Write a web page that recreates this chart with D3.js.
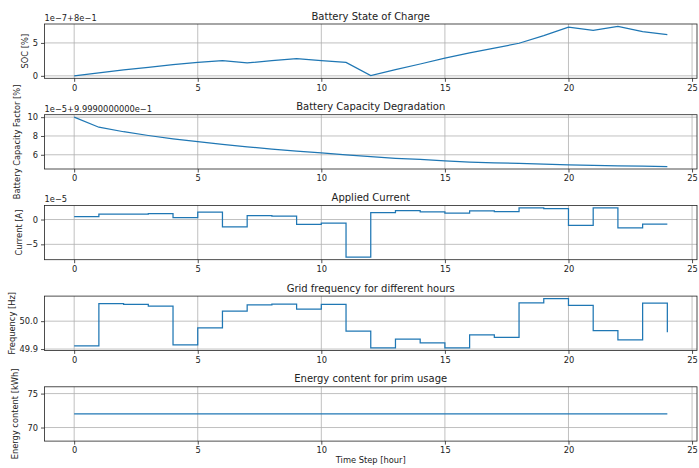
<!DOCTYPE html>
<meta charset="utf-8">
<style>
body { margin: 0; background: #fff; }
text { font-family: "DejaVu Sans", sans-serif; fill: #222; }
.grid line { stroke: #b0b0b0; stroke-width: 0.8; }
.tick text { font-size: 8.3px; }
</style>
<svg width="699" height="468"></svg>
<script src="https://d3js.org/d3.v7.min.js"></script>
<script>

// hours 0..24
let hours = d3.range(0, 25);

// SOC in units of 1e-7 above 0.8
let soc = [0, 0.45, 0.9, 1.3, 1.7, 2.05, 2.3, 1.97, 2.3, 2.6, 2.3, 2.05, 0.05,
  0.95, 1.8, 2.7, 3.5, 4.2, 4.95, 6.1, 7.4, 6.9, 7.5, 6.7, 6.25];

// capacity factor in units of 1e-5 above 0.9999
let capacity = [10, 8.93, 8.45, 8.05, 7.7, 7.39, 7.1, 6.85, 6.6, 6.4, 6.2, 5.98, 5.8,
  5.63, 5.5, 5.36, 5.23, 5.15, 5.08, 5.0, 4.93, 4.88, 4.83, 4.79, 4.75];

// current in units of 1e-5
let current = [0.6, 1.07, 1.07, 1.2, 0.4, 1.48, -1.5, 0.8, 0.67, -1.0, -0.7, -7.6, 1.4,
  1.8, 1.55, 1.28, 1.75, 1.6, 2.35, 2.2, -1.2, 2.35, -1.7, -0.95, -0.95];

let frequency = [49.911, 50.063, 50.060, 50.054, 49.915, 49.976, 50.036, 50.058, 50.061,
  50.043, 50.060, 49.964, 49.904, 49.936, 49.922, 49.904, 49.951, 49.942, 50.066,
  50.081, 50.057, 49.966, 49.933, 50.065, 49.960];

let energy = hours.map(function() { return 72; });

let xTicks = [0, 5, 10, 15, 20, 25];

let panels = [
  {title: "Battery State of Charge", ylabel: "SOC [%]", values: soc, step: false,
   ticks: [0, 5], fmt: d3.format("d"), offset: "1e\u22127+8e\u22121", labelX: 25},
  {title: "Battery Capacity Degradation", ylabel: "Battery Capacity Factor [%]", values: capacity, step: false,
   ticks: [6, 8, 10], fmt: d3.format("d"), offset: "1e\u22125+9.9990000000e\u22121", labelX: 17},
  {title: "Applied Current", ylabel: "Current [A]", values: current, step: true,
   ticks: [-5, 0], fmt: d3.format("d"), offset: "1e\u22125", labelX: 19},
  {title: "Grid frequency for different hours", ylabel: "Frequency [Hz]", values: frequency, step: true,
   ticks: [49.9, 50.0], fmt: d3.format(".1f"), offset: "", labelX: 12.5},
  {title: "Energy content for prim usage", ylabel: "Energy content [kWh]", values: energy, step: false,
   ticks: [70, 75], fmt: d3.format("d"), offset: "", labelX: 15, domain: [68, 76]}
];

let svg = d3.select("svg");
let left = 44.5, right = 697;
let firstTop = 24, gap = 90.7, h = 54.3;

let x = d3.scaleLinear().domain([-1.2, 25.2]).range([left, right]);

function minus(s) { return String(s).replace("-", "\u2212"); }

panels.forEach(function(p, i) {
  let top = firstTop + i * gap;
  let bottom = top + h;
  let ext = d3.extent(p.values);
  let pad = (ext[1] - ext[0]) * 0.05;
  let dom = p.domain || [ext[0] - pad, ext[1] + pad];
  let y = d3.scaleLinear().domain(dom).range([bottom, top]);

  let g = svg.append("g");

  // grid
  let grid = g.append("g").attr("class", "grid");
  grid.selectAll(".gx").data(xTicks).enter().append("line")
    .attr("x1", d => x(d)).attr("x2", d => x(d))
    .attr("y1", top).attr("y2", bottom);
  grid.selectAll(".gy").data(p.ticks).enter().append("line")
    .attr("x1", left).attr("x2", right)
    .attr("y1", d => y(d)).attr("y2", d => y(d));

  // axes
  let xAxis = d3.axisBottom(x).tickValues(xTicks).tickSize(3.5).tickPadding(3).tickFormat(d3.format("d"));
  let gx = g.append("g").attr("transform", "translate(0," + bottom + ")").call(xAxis);
  let yAxis = d3.axisLeft(y).tickValues(p.ticks).tickSize(3.5).tickPadding(3)
    .tickFormat(d => minus(p.fmt(d)));
  let gy = g.append("g").attr("transform", "translate(" + left + ",0)").call(yAxis);
  [gx, gy].forEach(function(a) {
    a.select(".domain").remove();
    a.selectAll(".tick line").attr("stroke", "#222").attr("stroke-width", 0.8);
  });

  // line
  let line = d3.line()
    .x((d, j) => x(hours[j]))
    .y(d => y(d))
    .curve(p.step ? d3.curveStepAfter : d3.curveLinear);
  g.append("path").datum(p.values)
    .attr("fill", "none")
    .attr("stroke", "#1f77b4")
    .attr("stroke-width", 1.25)
    .attr("d", line);

  // frame
  g.append("rect")
    .attr("x", left).attr("y", top)
    .attr("width", right - left).attr("height", h)
    .attr("fill", "none").attr("stroke", "#222").attr("stroke-width", 0.8);

  // title
  g.append("text")
    .attr("x", (left + right) / 2).attr("y", top - 4.5)
    .attr("text-anchor", "middle")
    .style("font-size", "10px")
    .text(p.title);

  // offset text
  if (p.offset) {
    g.append("text")
      .attr("x", left).attr("y", top - 3)
      .style("font-size", "8.3px")
      .text(p.offset);
  }

  // y label
  g.append("text")
    .attr("transform", "translate(" + p.labelX + "," + (top + h / 2) + ") rotate(-90)")
    .attr("text-anchor", "middle")
    .attr("dy", "0.35em")
    .style("font-size", "8.3px")
    .text(p.ylabel);
});

svg.append("text")
  .attr("x", (left + right) / 2).attr("y", 463)
  .attr("text-anchor", "middle")
  .style("font-size", "8.3px")
  .text("Time Step [hour]");

</script>
